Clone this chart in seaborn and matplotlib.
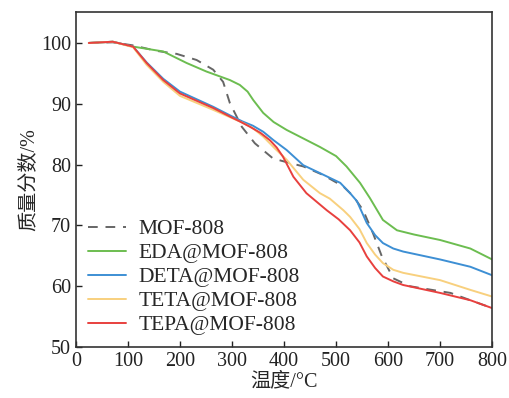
import pandas as pd
import matplotlib
matplotlib.use('Agg')
import matplotlib.pyplot as plt
import seaborn as sns

# Dados (temperatura em °C, massa em %)
t_mof = [25, 71, 110, 155, 194, 232, 264, 283, 296, 319, 344, 379, 405, 437, 475, 514, 533, 552, 571, 588, 610, 642, 677, 720, 758, 800]
m_mof = [100, 100.1, 99.6, 98.7, 98.2, 97.2, 95.6, 93.6, 90.1, 86.2, 83.5, 81.0, 80.4, 79.7, 78.3, 76.4, 74.8, 72.5, 68.7, 64.9, 61.3, 60.0, 59.5, 58.9, 57.7, 56.4]

t_eda = [25, 71, 110, 168, 213, 251, 296, 315, 330, 341, 360, 380, 405, 437, 469, 500, 520, 546, 565, 590, 617, 650, 700, 758, 800]
m_eda = [100, 100.2, 99.4, 98.6, 96.7, 95.3, 93.9, 93.1, 92.0, 90.6, 88.5, 87.0, 85.7, 84.3, 82.9, 81.4, 79.7, 77.0, 74.5, 70.9, 69.2, 68.5, 67.6, 66.2, 64.4]

t_deta = [25, 71, 110, 136, 168, 200, 264, 296, 320, 340, 360, 380, 405, 437, 469, 508, 527, 540, 559, 575, 590, 610, 629, 700, 758, 800]
m_deta = [100, 100.2, 99.4, 96.8, 94.1, 92.0, 89.5, 88.1, 87.1, 86.4, 85.4, 84.0, 82.4, 79.9, 78.6, 77.0, 75.3, 74.0, 70.4, 68.4, 67.1, 66.2, 65.7, 64.4, 63.2, 61.8]

t_teta = [25, 71, 110, 136, 168, 200, 264, 296, 320, 340, 360, 383, 405, 437, 469, 488, 514, 527, 545, 559, 575, 590, 610, 629, 700, 758, 800]
m_teta = [100, 100.2, 99.3, 96.4, 93.6, 91.3, 89.0, 87.8, 86.9, 86.0, 84.6, 82.6, 80.8, 77.5, 75.3, 74.4, 72.5, 71.4, 69.4, 67.1, 65.2, 63.8, 62.7, 62.2, 61.0, 59.4, 58.3]

t_tepa = [25, 71, 110, 136, 168, 200, 264, 296, 315, 335, 355, 373, 386, 398, 418, 443, 482, 505, 527, 545, 559, 575, 590, 610, 629, 700, 758, 800]
m_tepa = [100, 100.2, 99.4, 96.7, 93.9, 91.7, 89.3, 87.9, 87.1, 86.2, 85.2, 84.0, 82.8, 81.3, 78.0, 75.3, 72.5, 71.0, 69.2, 67.2, 64.9, 63.0, 61.6, 60.8, 60.2, 58.9, 57.7, 56.4]

nomes = ['MOF-808', 'EDA@MOF-808', 'DETA@MOF-808', 'TETA@MOF-808', 'TEPA@MOF-808']
cores = ['#666666', '#6cbd50', '#3d8fd4', '#f8d07e', '#e8403e']
series = [(t_mof, m_mof), (t_eda, m_eda), (t_deta, m_deta), (t_teta, m_teta), (t_tepa, m_tepa)]

sns.set_style('ticks')
plt.rcParams['font.family'] = ['Liberation Serif', 'Noto Sans CJK SC']
plt.rcParams['xtick.direction'] = 'in'
plt.rcParams['ytick.direction'] = 'in'

fig = plt.figure(figsize=(5.09, 3.98), dpi=100)
ax = fig.add_axes([0.149, 0.128, 0.818, 0.842])

for nome, cor, (t, m) in zip(nomes, cores, series):
    df = pd.DataFrame({'T': t, 'm': m})
    ls = (0, (5, 4)) if nome == 'MOF-808' else '-'
    sns.lineplot(data=df, x='T', y='m', ax=ax, color=cor, linewidth=1.4,
                 linestyle=ls, label=nome, sort=False)

ax.set_xlim(0, 800)
ax.set_ylim(50, 105.1)
ax.set_xticks(range(0, 801, 100))
ax.set_yticks(range(50, 101, 10))
ax.tick_params(labelsize=14.5, length=4, width=1, colors='#222222', top=False, right=False)
for s in ax.spines.values():
    s.set_linewidth(1.2)
    s.set_color('#333333')
ax.set_xlabel('温度/°C', fontsize=14.5, labelpad=1)
ax.set_ylabel('质量分数/%', fontsize=14.5, labelpad=2)
ax.legend(loc='lower left', frameon=False, fontsize=15.5, handlelength=1.8,
          labelspacing=0.18, borderaxespad=0.25, handletextpad=0.55,
          borderpad=0.3)

fig.savefig('out.png', dpi=100)
